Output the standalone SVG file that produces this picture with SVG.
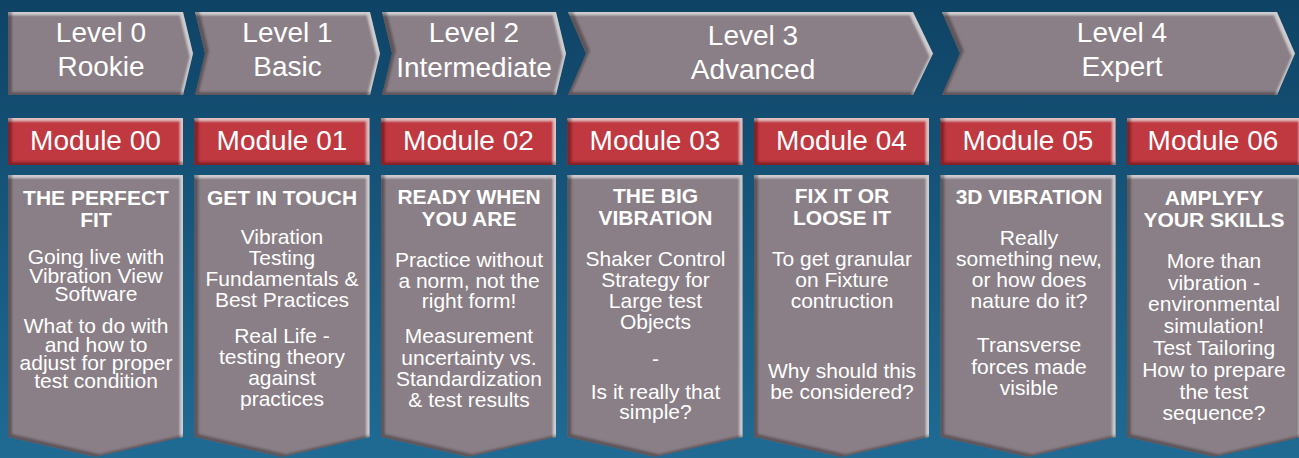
<svg xmlns="http://www.w3.org/2000/svg" width="1299" height="458" viewBox="0 0 1299 458">
  <defs>
    <linearGradient id="bg" x1="0" y1="0" x2="0" y2="1">
      <stop offset="0" stop-color="#0f4365"/>
      <stop offset="1" stop-color="#1f6b94"/>
    </linearGradient>
    <!-- soft inner bevel: light along top/right, dark along bottom/left -->
    <filter id="bevel" x="-5%" y="-5%" width="110%" height="110%">
      <feGaussianBlur in="SourceAlpha" stdDeviation="1.2" result="b"/>
      <feOffset in="b" dx="-3.5" dy="3" result="o1"/>
      <feComposite in="SourceAlpha" in2="o1" operator="arithmetic" k2="1" k3="-1" result="hiMask"/>
      <feFlood flood-color="#ffffff" flood-opacity="0.5"/>
      <feComposite in2="hiMask" operator="in" result="hi"/>
      <feOffset in="b" dx="3.5" dy="-3.5" result="o2"/>
      <feComposite in="SourceAlpha" in2="o2" operator="arithmetic" k2="1" k3="-1" result="shMask"/>
      <feFlood flood-color="#000000" flood-opacity="0.55"/>
      <feComposite in2="shMask" operator="in" result="sh"/>
      <feMerge>
        <feMergeNode in="SourceGraphic"/>
        <feMergeNode in="hi"/>
        <feMergeNode in="sh"/>
      </feMerge>
    </filter>
    <style>
      .shape { fill: #8a7f86; filter: url(#bevel); }
      .mod { fill: #c0393f; filter: url(#bevel); }
      text { font-family: "Liberation Sans", Arial, sans-serif; fill: #ffffff; text-anchor: middle; }
      .lvl { font-size: 28px; }
      .mtx { font-size: 28px; }
      .ttl { font-size: 21px; font-weight: bold; }
      .body { font-size: 21px; }
    </style>
  </defs>

  <rect x="0" y="0" width="1299" height="458" fill="url(#bg)"/>

  <!-- level banners -->
  <g id="levels">
    <g id="level-0">
      <path class="shape" d="M8,12 H183 L193,53.5 L183,95 H8 Z"/>
      <text class="lvl"><tspan x="101" y="42">Level 0</tspan><tspan x="101" y="76">Rookie</tspan></text>
    </g>
    <g id="level-1">
      <path class="shape" d="M195,12 H370 L380,53.5 L370,95 H195 L205,53.5 Z"/>
      <text class="lvl"><tspan x="287.5" y="42">Level 1</tspan><tspan x="287.5" y="76">Basic</tspan></text>
    </g>
    <g id="level-2">
      <path class="shape" d="M382,12 H556 L566,53.5 L556,95 H382 L392,53.5 Z"/>
      <text class="lvl"><tspan x="474" y="42">Level 2</tspan><tspan x="474" y="77">Intermediate</tspan></text>
    </g>
    <g id="level-3">
      <path class="shape" d="M568,12 H913 L933,53.5 L913,95 H568 L586,53.5 Z"/>
      <text class="lvl"><tspan x="753" y="45">Level 3</tspan><tspan x="753" y="79">Advanced</tspan></text>
    </g>
    <g id="level-4">
      <path class="shape" d="M942,12 H1277 L1295,53.5 L1277,95 H942 L960,53.5 Z"/>
      <text class="lvl"><tspan x="1122" y="42">Level 4</tspan><tspan x="1122" y="76">Expert</tspan></text>
    </g>
  </g>

  <!-- module headers -->
  <g id="modules">
    <g id="module-00"><rect class="mod" x="8" y="118" width="175" height="47"/><text class="mtx" x="95.5" y="150">Module 00</text></g>
    <g id="module-01"><rect class="mod" x="194.5" y="118" width="175" height="47"/><text class="mtx" x="282" y="150">Module 01</text></g>
    <g id="module-02"><rect class="mod" x="381" y="118" width="175" height="47"/><text class="mtx" x="468.5" y="150">Module 02</text></g>
    <g id="module-03"><rect class="mod" x="567.5" y="118" width="175" height="47"/><text class="mtx" x="655" y="150">Module 03</text></g>
    <g id="module-04"><rect class="mod" x="754" y="118" width="175" height="47"/><text class="mtx" x="841.5" y="150">Module 04</text></g>
    <g id="module-05"><rect class="mod" x="940.5" y="118" width="175" height="47"/><text class="mtx" x="1028" y="150">Module 05</text></g>
    <g id="module-06"><rect class="mod" x="1127" y="118" width="175" height="47"/><text class="mtx" x="1213" y="150">Module 06</text></g>
  </g>

  <!-- module content cards -->
  <g id="cards">
    <g id="card-00">
      <path class="shape" d="M8,175 H183 V437 L95.5,457 L8,437 Z"/>
      <text class="ttl"><tspan x="96" y="205">THE PERFECT</tspan><tspan x="96" y="227">FIT</tspan></text>
      <text class="body"><tspan x="96" y="264">Going live with</tspan><tspan x="96" y="282.5">Vibration View</tspan><tspan x="96" y="301">Software</tspan></text>
      <text class="body"><tspan x="96" y="333">What to do with</tspan><tspan x="96" y="351.5">and how to</tspan><tspan x="96" y="370">adjust for proper</tspan><tspan x="96" y="388">test condition</tspan></text>
    </g>
    <g id="card-01">
      <path class="shape" d="M194.5,175 H369.5 V437 L282,457 L194.5,437 Z"/>
      <text class="ttl"><tspan x="282" y="205">GET IN TOUCH</tspan></text>
      <text class="body"><tspan x="282" y="244">Vibration</tspan><tspan x="282" y="265">Testing</tspan><tspan x="282" y="286">Fundamentals &amp;</tspan><tspan x="282" y="307">Best Practices</tspan></text>
      <text class="body"><tspan x="282" y="343">Real Life -</tspan><tspan x="282" y="364">testing theory</tspan><tspan x="282" y="385">against</tspan><tspan x="282" y="406">practices</tspan></text>
    </g>
    <g id="card-02">
      <path class="shape" d="M381,175 H556 V437 L468.5,457 L381,437 Z"/>
      <text class="ttl"><tspan x="469" y="204">READY WHEN</tspan><tspan x="469" y="226">YOU ARE</tspan></text>
      <text class="body"><tspan x="469" y="267">Practice without</tspan><tspan x="469" y="287.5">a norm, not the</tspan><tspan x="469" y="308">right form!</tspan></text>
      <text class="body"><tspan x="469" y="343">Measurement</tspan><tspan x="469" y="364.5">uncertainty vs.</tspan><tspan x="469" y="386">Standardization</tspan><tspan x="469" y="407">&amp; test results</tspan></text>
    </g>
    <g id="card-03">
      <path class="shape" d="M567.5,175 H742.5 V437 L655,457 L567.5,437 Z"/>
      <text class="ttl"><tspan x="655.5" y="203">THE BIG</tspan><tspan x="655.5" y="225">VIBRATION</tspan></text>
      <text class="body"><tspan x="655.5" y="266">Shaker Control</tspan><tspan x="655.5" y="287">Strategy for</tspan><tspan x="655.5" y="308">Large test</tspan><tspan x="655.5" y="329">Objects</tspan></text>
      <text class="body" x="655.5" y="366">-</text>
      <text class="body"><tspan x="655.5" y="398.5">Is it really that</tspan><tspan x="655.5" y="419">simple?</tspan></text>
    </g>
    <g id="card-04">
      <path class="shape" d="M754,175 H929 V437 L841.5,457 L754,437 Z"/>
      <text class="ttl"><tspan x="842" y="203">FIX IT OR</tspan><tspan x="842" y="225">LOOSE IT</tspan></text>
      <text class="body"><tspan x="842" y="266">To get granular</tspan><tspan x="842" y="287">on Fixture</tspan><tspan x="842" y="307.5">contruction</tspan></text>
      <text class="body"><tspan x="842" y="378">Why should this</tspan><tspan x="842" y="399">be considered?</tspan></text>
    </g>
    <g id="card-05">
      <path class="shape" d="M940.5,175 H1115.5 V437 L1028,457 L940.5,437 Z"/>
      <text class="ttl"><tspan x="1029" y="204">3D VIBRATION</tspan></text>
      <text class="body"><tspan x="1029" y="245">Really</tspan><tspan x="1029" y="266">something new,</tspan><tspan x="1029" y="287">or how does</tspan><tspan x="1029" y="307.5">nature do it?</tspan></text>
      <text class="body"><tspan x="1029" y="352">Transverse</tspan><tspan x="1029" y="373.5">forces made</tspan><tspan x="1029" y="395">visible</tspan></text>
    </g>
    <g id="card-06">
      <path class="shape" d="M1127,175 H1302 V437 L1214.5,457 L1127,437 Z"/>
      <text class="ttl"><tspan x="1214" y="205">AMPLYFY</tspan><tspan x="1214" y="227">YOUR SKILLS</tspan></text>
      <text class="body"><tspan x="1214" y="268">More than</tspan><tspan x="1214" y="289.5">vibration -</tspan><tspan x="1214" y="311">environmental</tspan><tspan x="1214" y="333">simulation!</tspan><tspan x="1214" y="355">Test Tailoring</tspan><tspan x="1214" y="377">How to prepare</tspan><tspan x="1214" y="399">the test</tspan><tspan x="1214" y="420">sequence?</tspan></text>
    </g>
  </g>
</svg>
